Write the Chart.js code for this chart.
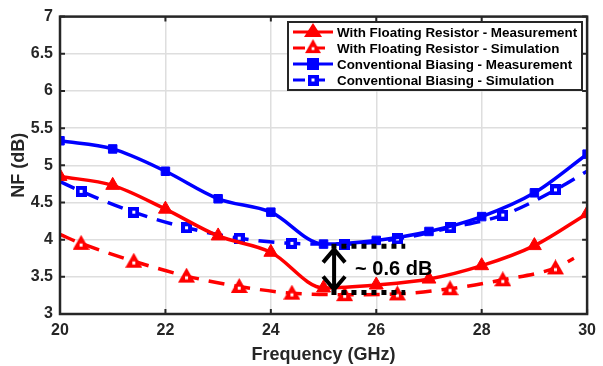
<!DOCTYPE html>
<html>
<head>
<meta charset="utf-8">
<script src="https://cdn.jsdelivr.net/npm/chart.js@4"></script>
<style>
	html, body { margin: 0; padding: 0; background: #fff; }
	#wrap { width: 603px; height: 366px; }
</style>
</head>
<body>
<div id="wrap"><canvas id="nf-chart" width="603" height="366"></canvas></div>
<script>
// ---- Data
const measFreq = [ 20, 21, 22, 23, 24, 25, 26, 27, 28, 29, 30 ];
const floatMeas = [ 4.85, 4.73, 4.41, 4.05, 3.83, 3.35, 3.39, 3.47, 3.65, 3.92, 4.35 ];
const convMeas = [ 5.33, 5.22, 4.92, 4.55, 4.37, 3.94, 3.99, 4.11, 4.31, 4.63, 5.15 ];

const floatSimFreq = [ 20, 20.4, 21.4, 22.4, 23.4, 24.4, 25.4, 26.4, 27.4, 28.4, 29.4, 29.75 ];
const floatSim = [ 4.07, 3.95, 3.71, 3.51, 3.37, 3.28, 3.26, 3.27, 3.34, 3.46, 3.62, 3.75 ];
const convSimFreq = [ 20, 20.4, 21.4, 22.4, 23.4, 24.4, 25.4, 26.4, 27.4, 28.4, 29.4, 30 ];
const convSim = [ 4.78, 4.65, 4.37, 4.16, 4.02, 3.95, 3.94, 4.01, 4.16, 4.33, 4.67, 4.92 ];

const xTicks = [ 20, 22, 24, 26, 28, 30 ];
const yTicks = [ 3, 3.5, 4, 4.5, 5, 5.5, 6, 6.5, 7 ];

// ~0.6 dB gap annotation
const gapFreq = [ 25.15, 26.55 ];
const gapNF = [ 3.91, 3.29 ];
const gapArrowFreq = 25.2;
const gapLabel = '~ 0.6 dB';

const seriesNames = [
	'With Floating Resistor - Measurement',
	'With Floating Resistor - Simulation',
	'Conventional Biasing - Measurement',
	'Conventional Biasing - Simulation'
];

const RED = '#ff0000';
const BLUE = '#0000ff';
const AXIS = '#262626';
const FONT = '"Liberation Sans", Arial, sans-serif';

function pts( xs, ys ) {
	return xs.map( ( x, i ) => ( { x, y: ys[ i ] } ) );
}
// markers only on inner points of simulation curves
function innerRadius( n, r ) {
	return Array.from( { length: n }, ( _, i ) => ( i === 0 || i === n - 1 ) ? 0 : r );
}

// solid marker with a small white centre, as an image
function makeMarker( shape, color, size ) {
	const c = document.createElement( 'canvas' );
	c.width = size;
	c.height = size;
	const g = c.getContext( '2d' );
	g.fillStyle = color;
	g.beginPath();
	if ( shape === 'triangle' ) {
		g.moveTo( size / 2, 0 );
		g.lineTo( size, size * 0.88 );
		g.lineTo( 0, size * 0.88 );
		g.closePath();
	} else {
		g.rect( 0, 0, size, size );
	}
	g.fill();
	g.fillStyle = '#fff';
	const cy = shape === 'triangle' ? size * 0.6 : size / 2;
	g.fillRect( size / 2 - 1.5, cy - 1.5, 3, 3 );
	return c;
}

const triHollow = makeMarker( 'triangle', RED, 17 );
const rectHollow = makeMarker( 'rect', BLUE, 11 );

const datasets = [
	{
		label: seriesNames[ 0 ],
		data: pts( measFreq, floatMeas ),
		borderColor: RED, backgroundColor: RED,
		borderWidth: 3.5, cubicInterpolationMode: 'monotone',
		pointStyle: 'triangle', pointRadius: 8,
		pointBackgroundColor: RED, pointBorderColor: RED, pointBorderWidth: 1
	},
	{
		label: seriesNames[ 1 ],
		data: pts( floatSimFreq, floatSim ),
		borderColor: RED, backgroundColor: RED,
		borderWidth: 3.5, cubicInterpolationMode: 'monotone', borderDash: [ 16, 10 ],
		pointStyle: triHollow, pointRadius: innerRadius( floatSimFreq.length, 8 ),
		marker: triHollow
	},
	{
		label: seriesNames[ 2 ],
		data: pts( measFreq, convMeas ),
		borderColor: BLUE, backgroundColor: BLUE,
		borderWidth: 3.5, cubicInterpolationMode: 'monotone',
		pointStyle: 'rect', pointRadius: 6,
		pointBackgroundColor: BLUE, pointBorderColor: BLUE, pointBorderWidth: 1
	},
	{
		label: seriesNames[ 3 ],
		data: pts( convSimFreq, convSim ),
		borderColor: BLUE, backgroundColor: BLUE,
		borderWidth: 3.5, cubicInterpolationMode: 'monotone', borderDash: [ 16, 10 ],
		pointStyle: rectHollow, pointRadius: innerRadius( convSimFreq.length, 5 ),
		marker: rectHollow
	}
];

// ---- box, inner ticks, annotation and legend
const decorPlugin = {
	id: 'decor',
	afterDatasetsDraw( chart ) {
		const ctx = chart.ctx;
		const a = chart.chartArea;
		const xs = chart.scales.x;
		const ys = chart.scales.y;

		// gap annotation
		ctx.save();
		ctx.strokeStyle = '#000';
		ctx.lineWidth = 5;
		ctx.setLineDash( [ 5, 5 ] );
		gapNF.forEach( ( v ) => {
			ctx.beginPath();
			ctx.moveTo( xs.getPixelForValue( gapFreq[ 0 ] ), ys.getPixelForValue( v ) );
			ctx.lineTo( xs.getPixelForValue( gapFreq[ 1 ] ), ys.getPixelForValue( v ) );
			ctx.stroke();
		} );
		ctx.setLineDash( [] );
		const ax = xs.getPixelForValue( gapArrowFreq );
		const y1 = ys.getPixelForValue( gapNF[ 0 ] ) + 3;
		const y2 = ys.getPixelForValue( gapNF[ 1 ] ) - 3;
		ctx.lineWidth = 4;
		ctx.beginPath();
		ctx.moveTo( ax, y1 );
		ctx.lineTo( ax, y2 );
		ctx.moveTo( ax - 11, y1 + 13 );
		ctx.lineTo( ax, y1 );
		ctx.lineTo( ax + 11, y1 + 13 );
		ctx.moveTo( ax - 11, y2 - 13 );
		ctx.lineTo( ax, y2 );
		ctx.lineTo( ax + 11, y2 - 13 );
		ctx.stroke();
		ctx.fillStyle = '#000';
		ctx.font = 'bold 20px ' + FONT;
		ctx.textBaseline = 'middle';
		ctx.fillText( gapLabel, ax + 21, ( y1 + y2 ) / 2 );
		ctx.restore();

		// axes box with inner ticks
		ctx.save();
		ctx.strokeStyle = AXIS;
		ctx.lineWidth = 2.5;
		ctx.strokeRect( a.left, a.top, a.right - a.left, a.bottom - a.top );
		ctx.lineWidth = 2;
		ctx.beginPath();
		xTicks.forEach( ( t ) => {
			const px = xs.getPixelForValue( t );
			ctx.moveTo( px, a.bottom ); ctx.lineTo( px, a.bottom - 5 );
			ctx.moveTo( px, a.top ); ctx.lineTo( px, a.top + 5 );
		} );
		yTicks.forEach( ( t ) => {
			const py = ys.getPixelForValue( t );
			ctx.moveTo( a.left, py ); ctx.lineTo( a.left + 5, py );
			ctx.moveTo( a.right, py ); ctx.lineTo( a.right - 5, py );
		} );
		ctx.stroke();
		ctx.restore();

		// legend
		const lx = 288, ly = 22, lw = 294, lh = 68;
		ctx.save();
		ctx.fillStyle = '#fff';
		ctx.fillRect( lx, ly, lw, lh );
		ctx.strokeStyle = '#262626';
		ctx.lineWidth = 2;
		ctx.strokeRect( lx, ly, lw, lh );
		ctx.font = 'bold 13.4px ' + FONT;
		ctx.textBaseline = 'middle';
		datasets.forEach( ( ds, i ) => {
			const cy = ly + 10 + i * 16;
			const x0 = lx + 5, x1 = lx + 45, mx = lx + 25;
			ctx.strokeStyle = ds.borderColor;
			ctx.lineWidth = 3;
			ctx.setLineDash( ds.borderDash ? [ 12, 8 ] : [] );
			ctx.beginPath();
			ctx.moveTo( x0, cy ); ctx.lineTo( x1, cy );
			ctx.stroke();
			ctx.setLineDash( [] );
			if ( ds.marker ) {
				const m = ds.marker;
				const w = ds.pointStyle === triHollow ? 16 : 11;
				const h = w * m.height / m.width;
				ctx.drawImage( m, mx - w / 2, cy - h / 2 - ( ds.pointStyle === triHollow ? 1 : 0 ), w, h );
			} else {
				ctx.fillStyle = ds.borderColor;
				ctx.beginPath();
				if ( ds.pointStyle === 'triangle' ) {
					ctx.moveTo( mx, cy - 9 );
					ctx.lineTo( mx + 9, cy + 5 );
					ctx.lineTo( mx - 9, cy + 5 );
					ctx.closePath();
				} else {
					ctx.rect( mx - 6, cy - 6, 12, 12 );
				}
				ctx.fill();
			}
			ctx.fillStyle = '#000';
			ctx.fillText( ds.label, lx + 49, cy + 1 );
		} );
		ctx.restore();
	}
};

new Chart( document.getElementById( 'nf-chart' ), {
	type: 'line',
	data: { datasets },
	options: {
		responsive: false,
		animation: false,
		layout: { padding: { left: 0, right: 9, top: 10, bottom: 0 } },
		plugins: {
			legend: { display: false },
			tooltip: { enabled: false }
		},
		scales: {
			x: {
				type: 'linear',
				min: 20, max: 30,
				afterBuildTicks: ( s ) => { s.ticks = xTicks.map( ( v ) => ( { value: v } ) ); },
				afterFit: ( s ) => { s.height = 52; },
				grid: { color: '#dedede', lineWidth: 1.5, drawTicks: false },
				border: { display: false },
				ticks: {
					color: AXIS, padding: 7,
					callback: ( v ) => String( v ),
					font: { family: FONT, size: 16, weight: 'bold' }
				},
				title: {
					display: true, text: 'Frequency (GHz)', color: AXIS,
					padding: { top: 2, bottom: 0 },
					font: { family: FONT, size: 18, weight: 'bold' }
				}
			},
			y: {
				min: 3, max: 7,
				afterBuildTicks: ( s ) => { s.ticks = yTicks.map( ( v ) => ( { value: v } ) ); },
				afterFit: ( s ) => { s.width = 60; },
				grid: { color: '#dedede', lineWidth: 1.5, drawTicks: false },
				border: { display: false },
				ticks: {
					color: AXIS, padding: 7,
					callback: ( v ) => String( v ),
					font: { family: FONT, size: 16, weight: 'bold' }
				},
				title: {
					display: true, text: 'NF (dB)', color: AXIS,
					padding: { top: 8, bottom: 0 },
					font: { family: FONT, size: 18, weight: 'bold' }
				}
			}
		}
	},
	plugins: [ decorPlugin ]
} );
</script>
</body>
</html>
